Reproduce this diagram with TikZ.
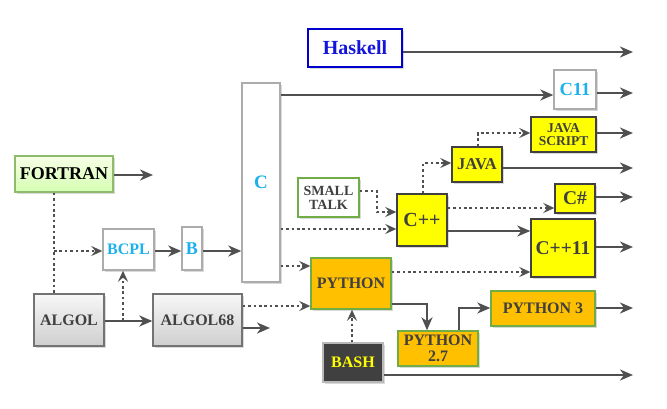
\documentclass[tikz,border=0pt]{standalone}
\usepackage{fontspec}
\setmainfont{Liberation Serif}
\usetikzlibrary{arrows.meta,shadows}
\definecolor{arr}{HTML}{505050}
\definecolor{cyantx}{HTML}{1CB0EC}
\definecolor{hblue}{HTML}{1414DC}
\definecolor{ygold}{HTML}{FFFF00}
\definecolor{orng}{HTML}{FFC000}
\definecolor{grn}{HTML}{70AD47}
\definecolor{dtx}{HTML}{404040}
\newcommand\fsz[1]{\fontsize{#1}{#1}\selectfont\bfseries}
\tikzset{
  base/.style={draw, line width=1.4pt, inner sep=0pt, align=center,
    drop shadow={shadow xshift=1.5pt, shadow yshift=-1.5pt, opacity=0.3}},
  whitebox/.style={base, draw=gray!65, fill=white, text=cyantx},
  yelbox/.style={base, draw=dtx, fill=ygold, text=dtx},
  orbox/.style={base, draw=grn, fill=orng, text=dtx},
  graybox/.style={base, draw=gray!90!black, top color=gray!6, bottom color=gray!38, text=dtx},
  sol/.style={draw=arr, line width=2.8pt, -{Stealth[length=13pt,width=11pt,inset=4pt]}},
  dotl/.style={draw=arr, line width=2.8pt, dash pattern=on 2.6pt off 2.8pt},
  dot/.style={dotl, -{Stealth[open,length=11pt,width=10pt,inset=4pt,line width=1.8pt]}},
}
\begin{document}
\begin{tikzpicture}[x=1pt,y=-1pt]
\useasboundingbox (0,0) rectangle (667,408);
% nodes
\node[base, draw=blue!80!black, fill=white, text=hblue, minimum width=94pt, minimum height=38pt] (haskell) at (355,48) {\fsz{20}Haskell};
\node[whitebox, minimum width=42pt, minimum height=39pt] (c11) at (575,89.5) {\fsz{18.5}C11};
\node[whitebox, minimum width=38pt, minimum height=199pt] (cbox) at (261,182.5) {\fsz{19}C};
\node[yelbox, minimum width=65pt, minimum height=35pt, font=\fontsize{13.5}{13}\selectfont\bfseries] (js) at (563.5,134.5) {JAVA\\SCRIPT};
\node[yelbox, minimum width=50pt, minimum height=35pt] (java) at (477,164.5) {\fsz{16.5}JAVA};
\node[base, draw=grn, fill=white, text=dtx, minimum width=61pt, minimum height=39pt, font=\fontsize{14}{14}\selectfont\bfseries] (st) at (328.5,197.5) {SMALL\\TALK};
\node[yelbox, minimum width=50pt, minimum height=52pt] (cpp) at (422,220) {\fsz{20}C++};
\node[yelbox, minimum width=40pt, minimum height=29pt] (cs) at (575,198.5) {\fsz{19.5}C\#};
\node[yelbox, minimum width=64pt, minimum height=58pt] (cpp11) at (563,248) {\fsz{19.5}C++11};
\node[orbox, minimum width=80pt, minimum height=51pt] (python) at (351,283.5) {\fsz{16}PYTHON};
\node[orbox, minimum width=104pt, minimum height=35pt] (py3) at (543,308.5) {\fsz{16}PYTHON 3};
\node[orbox, minimum width=80pt, minimum height=35pt, font=\fontsize{16}{16}\selectfont\bfseries] (py27) at (438,348.5) {PYTHON\\2.7};
\node[base, draw=gray!55, fill=dtx, text=ygold, minimum width=60pt, minimum height=39pt] (bash) at (353,362.5) {\fsz{16}BASH};
\node[base, draw=grn!80, top color=green!8!lime!10, bottom color=green!40!lime!30!white, text=black, minimum width=98pt, minimum height=36pt] (fortran) at (64,174) {\fsz{18}FORTRAN};
\node[whitebox, minimum width=51pt, minimum height=41pt] (bcpl) at (128.5,249.5) {\fsz{16}BCPL};
\node[whitebox, minimum width=20pt, minimum height=43pt] (b) at (192,248.5) {\fsz{18}B};
\node[graybox, minimum width=70pt, minimum height=52pt] (algol) at (69,320) {\fsz{16}ALGOL};
\node[graybox, minimum width=89pt, minimum height=52pt] (algol68) at (197.5,320) {\fsz{16}ALGOL68};
% free ends
\coordinate (ehask) at (633,52);
\coordinate (ec11) at (633,93);
\coordinate (ejs) at (633,133);
\coordinate (ejava) at (633,168);
\coordinate (ecs) at (633,197);
\coordinate (ecpp11) at (633,247);
\coordinate (epy3) at (633,308);
\coordinate (ebash) at (633,375);
\coordinate (efort) at (153,175);
\coordinate (ealg68) at (270,328);
\coordinate (jf) at (54,251);
\coordinate (ja) at (123,321);
% connectors
\draw[sol] (haskell.east |- 0,52) -- (ehask);
\draw[sol] (cbox.east |- 0,95) -- (c11.west |- 0,95);
\draw[sol] (c11.east |- 0,93) -- (ec11);
\draw[sol] (js.east |- 0,133) -- (ejs);
\draw[sol] (java.east |- 0,168) -- (ejava);
\draw[sol] (cs.east |- 0,197) -- (ecs);
\draw[sol] (cpp11.east |- 0,247) -- (ecpp11);
\draw[sol] (py3.east |- 0,308) -- (epy3);
\draw[sol] (bash.east |- 0,375) -- (ebash);
\draw[sol] (fortran.east |- 0,175) -- (efort);
\draw[dotl] (fortran.south -| 54,0) -- (algol.north -| 54,0);
\draw[dot] (jf) -- (bcpl.west |- 0,251);
\draw[sol] (bcpl.east |- 0,251) -- (b.west |- 0,251);
\draw[sol] (b.east |- 0,251) -- (cbox.west |- 0,251);
\draw[sol] (algol.east |- 0,321) -- (algol68.west |- 0,321);
\draw[dot] (ja) -- (bcpl.south -| 123,0);
\draw[sol] (algol68.east |- 0,328) -- (ealg68);
\draw[dot] (algol68.east |- 0,306) -- (python.west |- 0,306);
\draw[dot] (cbox.east |- 0,266) -- (python.west |- 0,266);
\draw[dot] (cbox.east |- 0,229) -- (cpp.west |- 0,229);
\draw[dot] (st.east |- 0,191) -- (377,191) -- (377,212) -- (cpp.west |- 0,212);
\draw[dot] (cpp.north -| 423,0) -- (423,163) -- (java.west |- 0,163);
\draw[dot] (java.north -| 478,0) -- (478,133) -- (js.west |- 0,133);
\draw[dot] (cpp.east |- 0,208) -- (cs.west |- 0,208);
\draw[sol] (cpp.east |- 0,231) -- (cpp11.west |- 0,231);
\draw[dot] (python.east |- 0,272) -- (cpp11.west |- 0,272);
\draw[sol] (python.east |- 0,304) -- (427,304) -- (py27.north -| 427,0);
\draw[sol] (py27.north -| 459,0) -- (459,308) -- (py3.west |- 0,308);
\draw[dot] (bash.north -| 352,0) -- (python.south -| 352,0);
\end{tikzpicture}
\end{document}
